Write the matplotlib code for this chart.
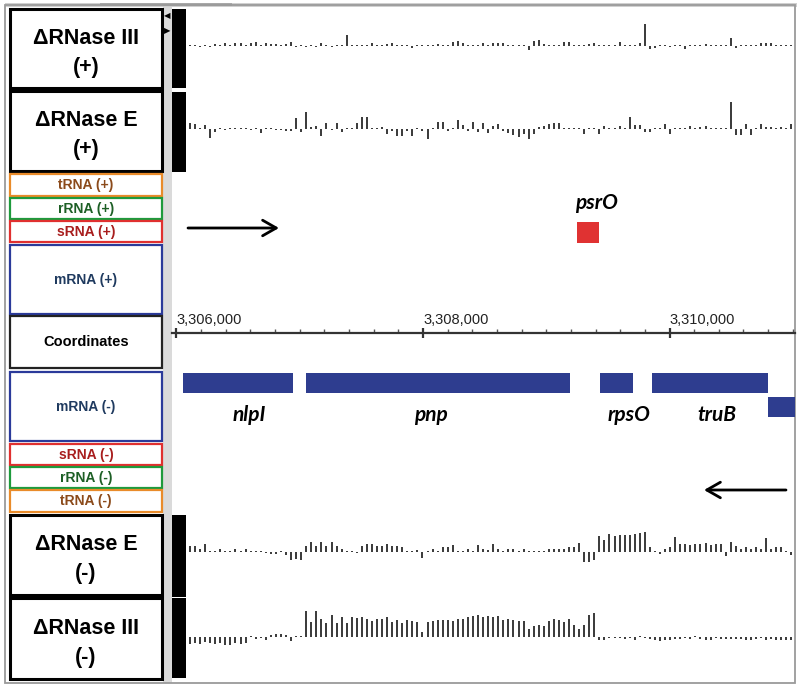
import matplotlib
matplotlib.use('Agg')
import matplotlib.pyplot as plt
from matplotlib.patches import Rectangle
from matplotlib.ticker import MultipleLocator, FixedLocator

W, H = 800, 688

# ---------------- data ----------------
bin_start = 3306110   # first bin centre (bp)
bin_size = 41         # bp per bin

rnase3_plus = [1, 1, -1, 1, -1, 2, 1, 3, 1, 3,
               3, 1, 3, 4, 1, 3, 2, 2, 1, 2,
               4, -1, 1, -1, 1, -1, 3, 1, -1, 1,
               1, 11, 1, 1, 1, 1, 3, 1, 1, 2,
               3, 1, 1, 1, -2, 1, 1, 1, 1, 2,
               1, 1, 4, 5, 3, 1, 1, 1, 3, 1,
               3, 3, 3, 1, 1, 1, 1, -4, 5, 6,
               2, 1, 1, 1, 4, 4, 1, 1, 1, 2,
               3, 1, 1, 1, 1, 4, 1, 1, 1, 3,
               22, -3, -2, 1, 1, -1, 1, 1, -3, 1,
               1, 1, 2, 1, 1, 1, 1, 8, -2, 1,
               1, 1, 1, 3, 3, 3, 1, 1, 1, 1]

rnaseE_plus = [6, 5, 1, 4, -9, -3, 1, -1, 1, 1,
               1, 1, -1, 1, -4, 1, 1, -1, -1, -2,
               -2, 11, -3, 17, 2, 3, -7, 6, -1, 6,
               -3, 1, 1, 6, 12, 12, 1, 1, 2, -5,
               -2, -7, -7, -2, -7, 1, -2, -10, 1, 7,
               7, -2, 1, 9, 4, -2, 7, -3, 6, -4,
               3, 5, -2, -4, -6, -8, -5, -10, -5, 2,
               3, 5, 6, 6, 1, 1, 1, 1, -5, 1,
               1, -5, 3, 1, 1, 3, 1, 12, 4, 4,
               -3, -3, 1, 1, 5, -5, 1, 1, 1, 3,
               1, 2, 3, 1, 1, 1, 1, 27, -6, -6,
               5, -6, 1, 5, 2, 2, 1, 2, 1, 5]

rnaseE_minus = [6, 6, 3, 8, 1, 1, 3, 1, 1, 3,
                1, 3, 1, 1, 1, -1, -2, -2, 1, -3,
                -8, -7, -8, 6, 10, 6, 10, 6, 10, 6,
                3, 1, 1, -1, 6, 8, 8, 6, 6, 8,
                6, 6, 5, 1, 1, 2, -6, 1, 3, 1,
                5, 5, 7, 1, 1, 3, 1, 7, 3, 2,
                8, 3, 1, 3, 3, 1, 3, 1, 1, 1,
                1, 3, 3, 3, 3, 5, 5, 9, -10, -10,
                -8, 16, 12, 18, 16, 17, 17, 17, 18, 19,
                20, 5, 1, -2, 3, 5, 15, 8, 8, 7,
                8, 8, 9, 7, 8, 8, -4, 10, 6, 3,
                5, 3, 5, 3, 14, 3, 5, 5, 1, -3]

rnase3_minus = [-7, -6, -7, -5, -6, -7, -6, -8, -8, -6,
                -7, -6, 1, -2, -1, -3, 2, 3, 3, 2,
                -4, 1, 1, 26, 15, 26, 18, 14, 22, 14,
                20, 14, 20, 19, 20, 18, 16, 18, 18, 20,
                15, 17, 14, 17, 16, 15, 5, 15, 16, 17,
                17, 17, 16, 18, 18, 20, 21, 22, 20, 21,
                20, 21, 17, 18, 17, 16, 16, 8, 11, 12,
                11, 16, 18, 17, 15, 18, 12, 8, 12, 22,
                24, -3, -3, -1, -1, -1, -2, -1, -3, 1,
                -1, -2, -3, -4, -3, -3, -2, -2, -1, -2,
                1, -2, -3, -3, -1, -2, -2, -2, -2, -2,
                -3, -3, -2, -1, -3, -2, -3, -3, -3, -3]

gene_names = ['nlpI', 'pnp', 'rpsO', 'truB', '']
gene_start = [3306053, 3307051, 3309436, 3309858, 3310799]
gene_end = [3306945, 3309193, 3309704, 3310799, 3311150]
gene_row = [0, 0, 0, 0, 1]

srna_names = ['psrO']
srna_start = [3309250]
srna_end = [3309428]

coord_ticks = [3306000, 3308000, 3310000]
coord_labels = ['3,306,000', '3,308,000', '3,310,000']

track_labels = [['\u0394RNase III', '(+)'], ['\u0394RNase E', '(+)'],
                ['\u0394RNase E', '(-)'], ['\u0394RNase III', '(-)']]
small_labels = ['tRNA (+)', 'rRNA (+)', 'sRNA (+)', 'mRNA (+)', 'Coordinates',
                'mRNA (-)', 'sRNA (-)', 'rRNA (-)', 'tRNA (-)']

# ---------------- layout ----------------
view = (3305964, 3311018)
DX0, DX1 = 172, 795
bins = [bin_start + i * bin_size for i in range(len(rnase3_plus))]

plt.rcParams['font.family'] = ['Liberation Sans', 'DejaVu Sans']
fig = plt.figure(figsize=(W / 100, H / 100), dpi=100)
fig.patch.set_facecolor('white')

bg = fig.add_axes([0, 0, 1, 1])
bg.set_xlim(0, W)
bg.set_ylim(H, 0)
bg.axis('off')

# frame and separator
bg.add_patch(Rectangle((163, 5), 9, 678, fc='#dadada', ec='none'))
bg.add_patch(Rectangle((5, 3), 792, 4, fc='#d0d0d0', ec='none'))
bg.add_patch(Rectangle((100, 3), 132, 3, fc='#a8a8a8', ec='none'))
bg.add_patch(Rectangle((5, 5), 790, 678, fill=False, ec='#9a9a9a', lw=1.3))
bg.text(170, 16, '\u25C0', fontsize=6, ha='right', va='center', color='black',
        family='DejaVu Sans')
bg.text(164, 31, '\u25B6', fontsize=6, ha='left', va='center', color='black',
        family='DejaVu Sans')

# left label boxes
track_boxes = [(9, 88), (91, 171), (515, 595), (598, 679)]
for (y0, y1), lab in zip(track_boxes, track_labels):
    bg.add_patch(Rectangle((10, y0), 152, y1 - y0, fc='white', ec='black', lw=2.2))
    bg.text(86, y0 + 30, lab[0], fontsize=15.5, fontweight='bold', ha='center', va='center')
    bg.text(86, y0 + 59, lab[1], fontsize=15.5, fontweight='bold', ha='center', va='center')

small_boxes = [(174, 196), (198, 219), (221, 242), (245, 314), (316, 368),
               (372, 441), (444, 465), (467, 488), (490, 512)]
edge_cols = ['#e98b2a', '#1e9a3c', '#e0302f', '#2b3a9a', '#222222',
             '#2b3a9a', '#e0302f', '#1e9a3c', '#e98b2a']
text_cols = ['#8b4a1a', '#1d5f25', '#a81d1d', '#1f3a5f', '#000000',
             '#1f3a5f', '#a81d1d', '#1d5f25', '#8b4a1a']
for (y0, y1), lab, ec, tc in zip(small_boxes, small_labels, edge_cols, text_cols):
    bg.add_patch(Rectangle((10, y0), 152, y1 - y0, fc='white', ec=ec, lw=1.6))
    bg.text(86, (y0 + y1) / 2 + 0.5, lab, fontsize=10 if lab != 'Coordinates' else 10.5,
            fontweight='bold', ha='center', va='center', color=tc)

# black range bars of the coverage tracks
for y0, y1 in [(9, 88), (92, 172), (515, 597), (598, 678)]:
    bg.add_patch(Rectangle((172, y0), 14, y1 - y0, fc='black', ec='none'))

# strand arrows
bg.annotate('', xy=(279, 228), xytext=(188, 228),
            arrowprops=dict(arrowstyle='->,head_length=0.7,head_width=0.4', lw=2,
                            color='black', mutation_scale=14, shrinkA=0, shrinkB=0))
bg.annotate('', xy=(704, 490), xytext=(786, 490),
            arrowprops=dict(arrowstyle='->,head_length=0.7,head_width=0.4', lw=2,
                            color='black', mutation_scale=14, shrinkA=0, shrinkB=0))

# coverage tracks
def track(y0, y1, base, vals):
    ax = fig.add_axes([DX0 / W, 1 - y1 / H, (DX1 - DX0) / W, (y1 - y0) / H])
    ax.set_xlim(view)
    ax.set_ylim(-(y1 - base), base - y0)
    ax.axis('off')
    ax.vlines(bins, 0, vals, color='#2a2a2a', linewidth=1.3, capstyle='butt')
    return ax

track(9, 88, 46, rnase3_plus)
track(91, 171, 129, rnaseE_plus)
track(514, 594, 552, rnaseE_minus)
track(597, 679, 637, rnase3_minus)

# feature track (pixel rows on y, genome on x)
fa = fig.add_axes([DX0 / W, 0, (DX1 - DX0) / W, 1])
fa.set_xlim(view)
fa.set_ylim(H, 0)
fa.axis('off')
row_y = [383, 407]
for s, e, r in zip(gene_start, gene_end, gene_row):
    fa.barh(row_y[r], e - s, left=s, height=20, color='#2e3d8f', linewidth=0)
label_shift = [90, -60, 100, 60, 0]
for n, s, e, sh in zip(gene_names, gene_start, gene_end, label_shift):
    if n:
        fa.text((s + e) / 2 + sh, 415, n, fontsize=15, fontweight='bold', style='italic',
                ha='center', va='center', family=['Lato', 'DejaVu Sans'])
for n, s, e in zip(srna_names, srna_start, srna_end):
    fa.barh(232.5, e - s, left=s, height=21, color='#e03232', linewidth=0)
    fa.text((s + e) / 2 + 70, 203, n, fontsize=15, fontweight='bold', style='italic',
            ha='center', va='center', family=['Lato', 'DejaVu Sans'])

# coordinate ruler
ca = fig.add_axes([DX0 / W, 1 - 333 / H, (DX1 - DX0) / W, 1 / H])
ca.set_xlim(view)
ca.set_facecolor('none')
for sp in ['left', 'right', 'top']:
    ca.spines[sp].set_visible(False)
ca.spines['bottom'].set_linewidth(1.6)
ca.spines['bottom'].set_color('#333333')
ca.set_yticks([])
ca.xaxis.set_major_locator(FixedLocator(coord_ticks))
ca.xaxis.set_minor_locator(MultipleLocator(200))
ca.set_xticklabels(coord_labels)
ca.tick_params(axis='x', which='major', direction='inout', length=7, width=1.6,
               color='#333333', bottom=True, top=False, labelbottom=False,
               labeltop=True, labelsize=10.5, labelcolor='#222222', pad=0)
ca.tick_params(axis='x', which='minor', direction='in', length=3, width=1,
               color='#555555', bottom=True, top=False)
for t in ca.get_xticklabels():
    t.set_ha('left')

fig.savefig('out.png', dpi=100, facecolor='white')
